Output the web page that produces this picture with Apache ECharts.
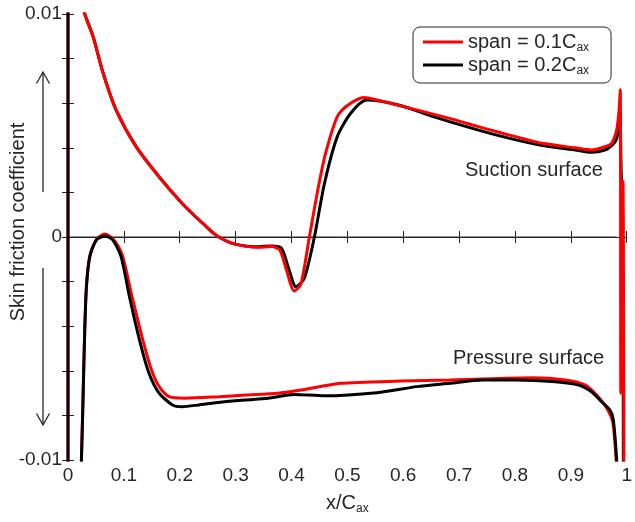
<!DOCTYPE html>
<html>
<head>
<meta charset="utf-8">
<title>Skin friction coefficient</title>
<script src="https://cdn.jsdelivr.net/npm/echarts@6/dist/echarts.min.js"></script>
<style>
  html, body { margin: 0; padding: 0; background: #fff; }
  #chart { width: 635px; height: 522px; }
</style>
</head>
<body>
<div id="chart"></div>
<script>
// Skin friction coefficient along the blade, suction and pressure surfaces,
// for two spanwise positions.

// span = 0.1 Cax, suction surface
const suctionX_01 = [0.022, 0.030, 0.045, 0.063, 0.086, 0.122, 0.163, 0.204, 0.228, 0.246, 0.258, 0.270, 0.284, 0.299, 0.320, 0.340, 0.364,
  0.379, 0.391, 0.405, 0.417, 0.432, 0.447, 0.461, 0.482, 0.500, 0.530, 0.565, 0.624, 0.683, 0.713,
  0.778, 0.849, 0.908, 0.937, 0.961, 0.973, 0.982, 0.986, 0.9885, 0.9895, 0.9935, 0.995];
const suctionY_01 = [0.0108, 0.0100, 0.00898, 0.00734, 0.0057, 0.00405, 0.0027, 0.00151, 0.00092, 0.00050, 0.00022, 0.00000, -0.00018, -0.00032, -0.00042, -0.00046, -0.00043,
  -0.00058, -0.00148, -0.00242, -0.0021, 0.0000, 0.0021, 0.00375, 0.0054, 0.0059, 0.00626, 0.00607, 0.0057, 0.00532, 0.0051,
  0.00465, 0.0042, 0.0040, 0.0039, 0.00405, 0.0042, 0.0048, 0.0056, 0.0066, -0.0070, 0.0025, -0.0120];

// span = 0.2 Cax, suction surface
const suctionX_02 = [0.022, 0.030, 0.045, 0.063, 0.086, 0.122, 0.163, 0.204, 0.228, 0.246, 0.258, 0.270, 0.284, 0.299, 0.320, 0.340, 0.364,
  0.382, 0.394, 0.408, 0.423, 0.441, 0.459, 0.482, 0.506, 0.535, 0.595, 0.654, 0.713,
  0.778, 0.849, 0.908, 0.937, 0.961, 0.973, 0.982, 0.986, 0.988, 0.990, 0.993, 0.994];
const suctionY_02 = [0.0108, 0.0100, 0.00898, 0.00734, 0.0057, 0.00405, 0.0027, 0.00151, 0.00092, 0.00050, 0.00022, 0.00000, -0.00018, -0.00032, -0.00041, -0.00044, -0.00040,
  -0.0005, -0.00133, -0.00223, -0.00185, 0.0000, 0.0024, 0.0045, 0.00555, 0.00614, 0.0059, 0.0054, 0.00495,
  0.0045, 0.0041, 0.0039, 0.0038, 0.0039, 0.0041, 0.0044, 0.0050, 0.0056, 0.0030, 0.0009, -0.0120];

// span = 0.1 Cax, pressure surface
const pressureX_01 = [0, 0, 0.020, 0.024, 0.027, 0.030, 0.033, 0.039, 0.051, 0.066, 0.081, 0.097, 0.113, 0.134,
  0.150, 0.163, 0.181, 0.210, 0.270, 0.317, 0.376, 0.417, 0.488, 0.595, 0.683, 0.772, 0.831, 0.890,
  0.926, 0.949, 0.965, 0.975, 0.981, 0.983];
const pressureY_01 = [0.020, -0.020, -0.0125, -0.0100, -0.0071, -0.0041, -0.0022, -0.00085, -0.0001, 0.00013, -0.0001, -0.0008, -0.0025, -0.00462,
  -0.0060, -0.0067, -0.00716, -0.00723, -0.00716, -0.00709, -0.00701, -0.00686, -0.00656, -0.00646, -0.00641, -0.00634, -0.00631, -0.00641,
  -0.00664, -0.00716, -0.0077, -0.0083, -0.0100, -0.0115];

// span = 0.2 Cax, pressure surface
const pressureX_02 = [0, 0, 0.020, 0.024, 0.027, 0.030, 0.033, 0.039, 0.051, 0.066, 0.080, 0.095, 0.110, 0.128,
  0.145, 0.163, 0.187, 0.204, 0.234, 0.264, 0.317, 0.358, 0.405, 0.459, 0.553, 0.624, 0.683, 0.742, 0.801,
  0.872, 0.914, 0.937, 0.955, 0.970, 0.976, 0.982, 0.984];
const pressureY_02 = [0.020, -0.020, -0.0125, -0.0100, -0.00716, -0.00417, -0.00223, -0.00088, -0.00013, 0.00004, -0.00013, -0.00088, -0.00268, -0.00462,
  -0.00611, -0.0070, -0.00753, -0.00761, -0.00753, -0.00743, -0.00731, -0.00723, -0.00706, -0.00712, -0.00698, -0.00671, -0.00656, -0.00641, -0.00641,
  -0.00649, -0.00664, -0.00694, -0.00739, -0.00776, -0.0082, -0.0100, -0.0115];

// zero reference line
const zeroX = [0, 0.982];
const zeroY = [0, 0];

const seriesNames = ['span = 0.1Cax', 'span = 0.2Cax'];
const legendMain = ['span = 0.1C', 'span = 0.2C'];
const yTickLabels = { '-0.01': '-0.01', '0': '0', '0.01': '0.01' };

const RED = '#ff0000';
const BLACK = '#000000';
const AXIS = '#262626';
const FONT = '"Liberation Sans", Arial, Helvetica, sans-serif';

function pairs(xs, ys) {
  return xs.map((x, i) => [x, ys[i]]);
}

function curve(name, color, xs, ys) {
  return {
    name: name,
    type: 'line',
    xAxisIndex: 0,
    yAxisIndex: 0,
    data: pairs(xs, ys),
    showSymbol: false,
    symbol: 'none',
    smooth: 0.25,
    lineStyle: { color: color, width: 3 },
    itemStyle: { color: color },
    animation: false
  };
}

const chart = echarts.init(document.getElementById('chart'), null, { renderer: 'canvas' });

const axisCommon = {
  type: 'value',
  axisLine: { show: true, lineStyle: { color: AXIS, width: 1 } },
  axisTick: { show: true, inside: true, length: 6, lineStyle: { color: AXIS, width: 1 } },
  splitLine: { show: false }
};

function yLabel(v) {
  const key = String(Math.round(v * 1000) / 1000);
  return yTickLabels[key] !== undefined ? yTickLabels[key] : '';
}

const subRich = {
  m: { fontSize: 20, fontFamily: FONT, color: AXIS },
  s: { fontSize: 12, fontFamily: FONT, color: AXIS, padding: [12, 0, 0, 0], verticalAlign: 'bottom' }
};

chart.setOption({
  backgroundColor: '#ffffff',
  animation: false,
  grid: { left: 68, right: 3, top: 14, bottom: 62, containLabel: false },
  legend: {
    data: seriesNames,
    orient: 'vertical',
    left: 413,
    top: 27,
    padding: [5, 22, 6, 10],
    itemGap: 1,
    itemWidth: 40,
    itemHeight: 3,
    icon: 'rect',
    borderColor: AXIS,
    borderWidth: 1,
    borderRadius: 7,
    backgroundColor: '#ffffff',
    formatter: function (name) {
      const i = seriesNames.indexOf(name);
      return '{m|' + legendMain[i] + '}{s|ax}';
    },
    textStyle: { color: AXIS, fontFamily: FONT, rich: subRich }
  },
  xAxis: [
    Object.assign({}, axisCommon, {
      position: 'bottom',
      min: 0, max: 1, interval: 0.1,
      axisLabel: {
        color: AXIS, fontSize: 19, fontFamily: FONT, margin: 6,
        formatter: v => (Math.abs(v) < 1e-9 ? '0' : Math.abs(v - 1) < 1e-9 ? '1' : v.toFixed(1))
      },
      name: '{m|x/C}{s|ax}',
      nameLocation: 'middle',
      nameGap: 31,
      nameTextStyle: { color: AXIS, rich: subRich }
    }),
    Object.assign({}, axisCommon, {
      position: 'top',
      min: 0, max: 1, interval: 0.1,
      axisLabel: { show: false }
    })
  ],
  yAxis: [
    Object.assign({}, axisCommon, {
      position: 'left',
      min: -0.01, max: 0.01, interval: 0.002,
      axisLabel: { color: AXIS, fontSize: 19, fontFamily: FONT, margin: 6, formatter: yLabel, showMinLabel: true, showMaxLabel: true }
    }),
    Object.assign({}, axisCommon, {
      position: 'right',
      min: -0.01, max: 0.01, interval: 0.002,
      axisLabel: { show: false }
    })
  ],
  graphic: [
    // axis title, rotated to read bottom-to-top
    { type: 'text', x: 18, y: 222, rotation: Math.PI / 2,
      style: { text: 'Skin friction coefficient', fill: AXIS, font: '20px ' + FONT, align: 'center', verticalAlign: 'middle' }, silent: true },
    // upward arrow (suction side)
    { type: 'line', shape: { x1: 43, y1: 192, x2: 43, y2: 72 }, style: { stroke: AXIS, lineWidth: 1.3 }, silent: true },
    { type: 'polyline', shape: { points: [[36.5, 83.5], [43, 72], [49.5, 83.5]] }, style: { stroke: AXIS, lineWidth: 1.3, fill: null }, silent: true },
    // downward arrow (pressure side)
    { type: 'line', shape: { x1: 43, y1: 268, x2: 43, y2: 425 }, style: { stroke: AXIS, lineWidth: 1.3 }, silent: true },
    { type: 'polyline', shape: { points: [[36.5, 413.5], [43, 425], [49.5, 413.5]] }, style: { stroke: AXIS, lineWidth: 1.3, fill: null }, silent: true },
    // surface annotations
    { type: 'text', x: 465, y: 170, style: { text: 'Suction surface', fill: AXIS, font: '20px ' + FONT, verticalAlign: 'middle' }, silent: true },
    { type: 'text', x: 453, y: 358, style: { text: 'Pressure surface', fill: AXIS, font: '20px ' + FONT, verticalAlign: 'middle' }, silent: true }
  ],
  series: [
    {
      type: 'line', name: 'zero', data: pairs(zeroX, zeroY), symbol: 'none', silent: true,
      lineStyle: { color: AXIS, width: 1 }, animation: false
    },
    curve(seriesNames[1], BLACK, suctionX_02, suctionY_02),
    curve(seriesNames[0], RED, suctionX_01, suctionY_01),
    curve(seriesNames[0], RED, pressureX_01, pressureY_01),
    curve(seriesNames[1], BLACK, pressureX_02, pressureY_02)
  ]
});
</script>
</body>
</html>
